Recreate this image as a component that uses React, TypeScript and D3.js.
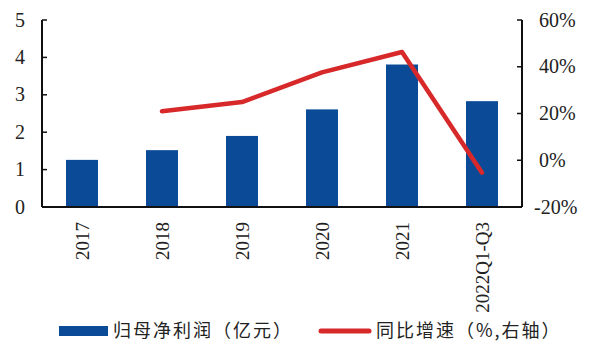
import { useRef, useEffect } from 'react';
import * as d3 from 'd3';

const categories = ['2017', '2018', '2019', '2020', '2021', '2022Q1-Q3'];
const netProfit = [1.26, 1.52, 1.9, 2.61, 3.81, 2.83];
const yoyGrowth: (number | null)[] = [null, 21, 24.9, 37.6, 46.3, -5.3];
const leftTicks = [0, 1, 2, 3, 4, 5];
const rightTicks = [-20, 0, 20, 40, 60];

const W = 597;
const H = 354;
const M = { top: 20, right: 75, bottom: 147, left: 42 };
const BAR = '#0b4a96';
const RED = '#d7282a';
const SERIF = '"Liberation Serif", "Times New Roman", serif';
const CJK = '"Noto Sans CJK SC", "Noto Sans", sans-serif';

export default function App() {
  const svgRef = useRef<SVGSVGElement>(null);

  useEffect(() => {
    const svg = d3.select(svgRef.current);
    svg.selectAll('*').remove();

    const x0 = M.left;
    const x1 = W - M.right;
    const yb = H - M.bottom;

    svg.append('rect').attr('width', W).attr('height', H).attr('fill', '#fff');

    const x = d3.scaleBand().domain(categories).range([x0, x1]).paddingInner(0.6).paddingOuter(0.3);
    const y = d3.scaleLinear().domain([0, 5]).range([yb, M.top]);
    const y2 = d3.scaleLinear().domain([-20, 60]).range([yb, M.top]);

    // bars
    categories.forEach((c, i) => {
      svg
        .append('rect')
        .attr('x', x(c)!)
        .attr('y', y(netProfit[i]))
        .attr('width', x.bandwidth())
        .attr('height', yb - y(netProfit[i]))
        .attr('fill', BAR);
    });

    // line
    const pts = categories
      .map((c, i) => ({ c, v: yoyGrowth[i] }))
      .filter((d) => d.v !== null) as { c: string; v: number }[];
    const line = d3
      .line<{ c: string; v: number }>()
      .x((d) => x(d.c)! + x.bandwidth() / 2)
      .y((d) => y2(d.v));
    svg
      .append('path')
      .attr('d', line(pts)!)
      .attr('fill', 'none')
      .attr('stroke', RED)
      .attr('stroke-width', 4.5)
      .attr('stroke-linejoin', 'round')
      .attr('stroke-linecap', 'round');

    // axes
    const axisColor = '#111';
    svg.append('line').attr('x1', x0).attr('x2', x0).attr('y1', M.top).attr('y2', yb).attr('stroke', axisColor).attr('stroke-width', 2);
    svg.append('line').attr('x1', x1).attr('x2', x1).attr('y1', M.top).attr('y2', yb).attr('stroke', axisColor).attr('stroke-width', 2);
    svg.append('line').attr('x1', x0).attr('x2', x1).attr('y1', yb).attr('y2', yb).attr('stroke', axisColor).attr('stroke-width', 2);

    leftTicks.forEach((t) => {
      svg.append('line').attr('x1', x0).attr('x2', x0 + 5).attr('y1', y(t)).attr('y2', y(t)).attr('stroke', axisColor).attr('stroke-width', 1.5);
      svg
        .append('text')
        .attr('x', 25)
        .attr('y', y(t) + 6.5)
        .attr('text-anchor', 'end')
        .attr('font-family', SERIF)
        .attr('font-size', 20)
        .attr('fill', '#222')
        .text(t);
    });

    rightTicks.forEach((t) => {
      svg.append('line').attr('x1', x1 - 5).attr('x2', x1).attr('y1', y2(t)).attr('y2', y2(t)).attr('stroke', axisColor).attr('stroke-width', 1.5);
      svg
        .append('text')
        .attr('x', t < 0 ? 534 : 539)
        .attr('y', y2(t) + 6.5)
        .attr('text-anchor', 'start')
        .attr('font-family', SERIF)
        .attr('font-size', 20)
        .attr('fill', '#222')
        .text(`${t}%`);
    });

    categories.forEach((c) => {
      const cx = x(c)! + x.bandwidth() / 2;
      svg
        .append('text')
        .attr('transform', `translate(${cx + 6.5},${yb + 15}) rotate(-90)`)
        .attr('text-anchor', 'end')
        .attr('font-family', SERIF)
        .attr('font-size', 19)
        .attr('fill', '#222')
        .text(c);
    });

    // legend
    const ly = 331;
    svg.append('rect').attr('x', 59).attr('y', ly - 5).attr('width', 49).attr('height', 10).attr('fill', BAR);
    svg
      .append('text')
      .attr('x', 113)
      .attr('y', ly + 6)
      .attr('font-family', CJK)
      .attr('font-size', 18)
      .attr('letter-spacing', 2)
      .attr('fill', '#222')
      .text('归母净利润（亿元）');
    svg.append('line').attr('x1', 321).attr('x2', 369).attr('y1', ly).attr('y2', ly).attr('stroke', RED).attr('stroke-width', 5).attr('stroke-linecap', 'round');
    svg
      .append('text')
      .attr('x', 376)
      .attr('y', ly + 6)
      .attr('font-family', CJK)
      .attr('font-size', 18)
      .attr('letter-spacing', 2)
      .attr('fill', '#222')
      .text('同比增速（%,右轴）');
  }, []);

  return <svg ref={svgRef} width={W} height={H} style={{ position: 'absolute', left: 0, top: 0 }} />;
}
